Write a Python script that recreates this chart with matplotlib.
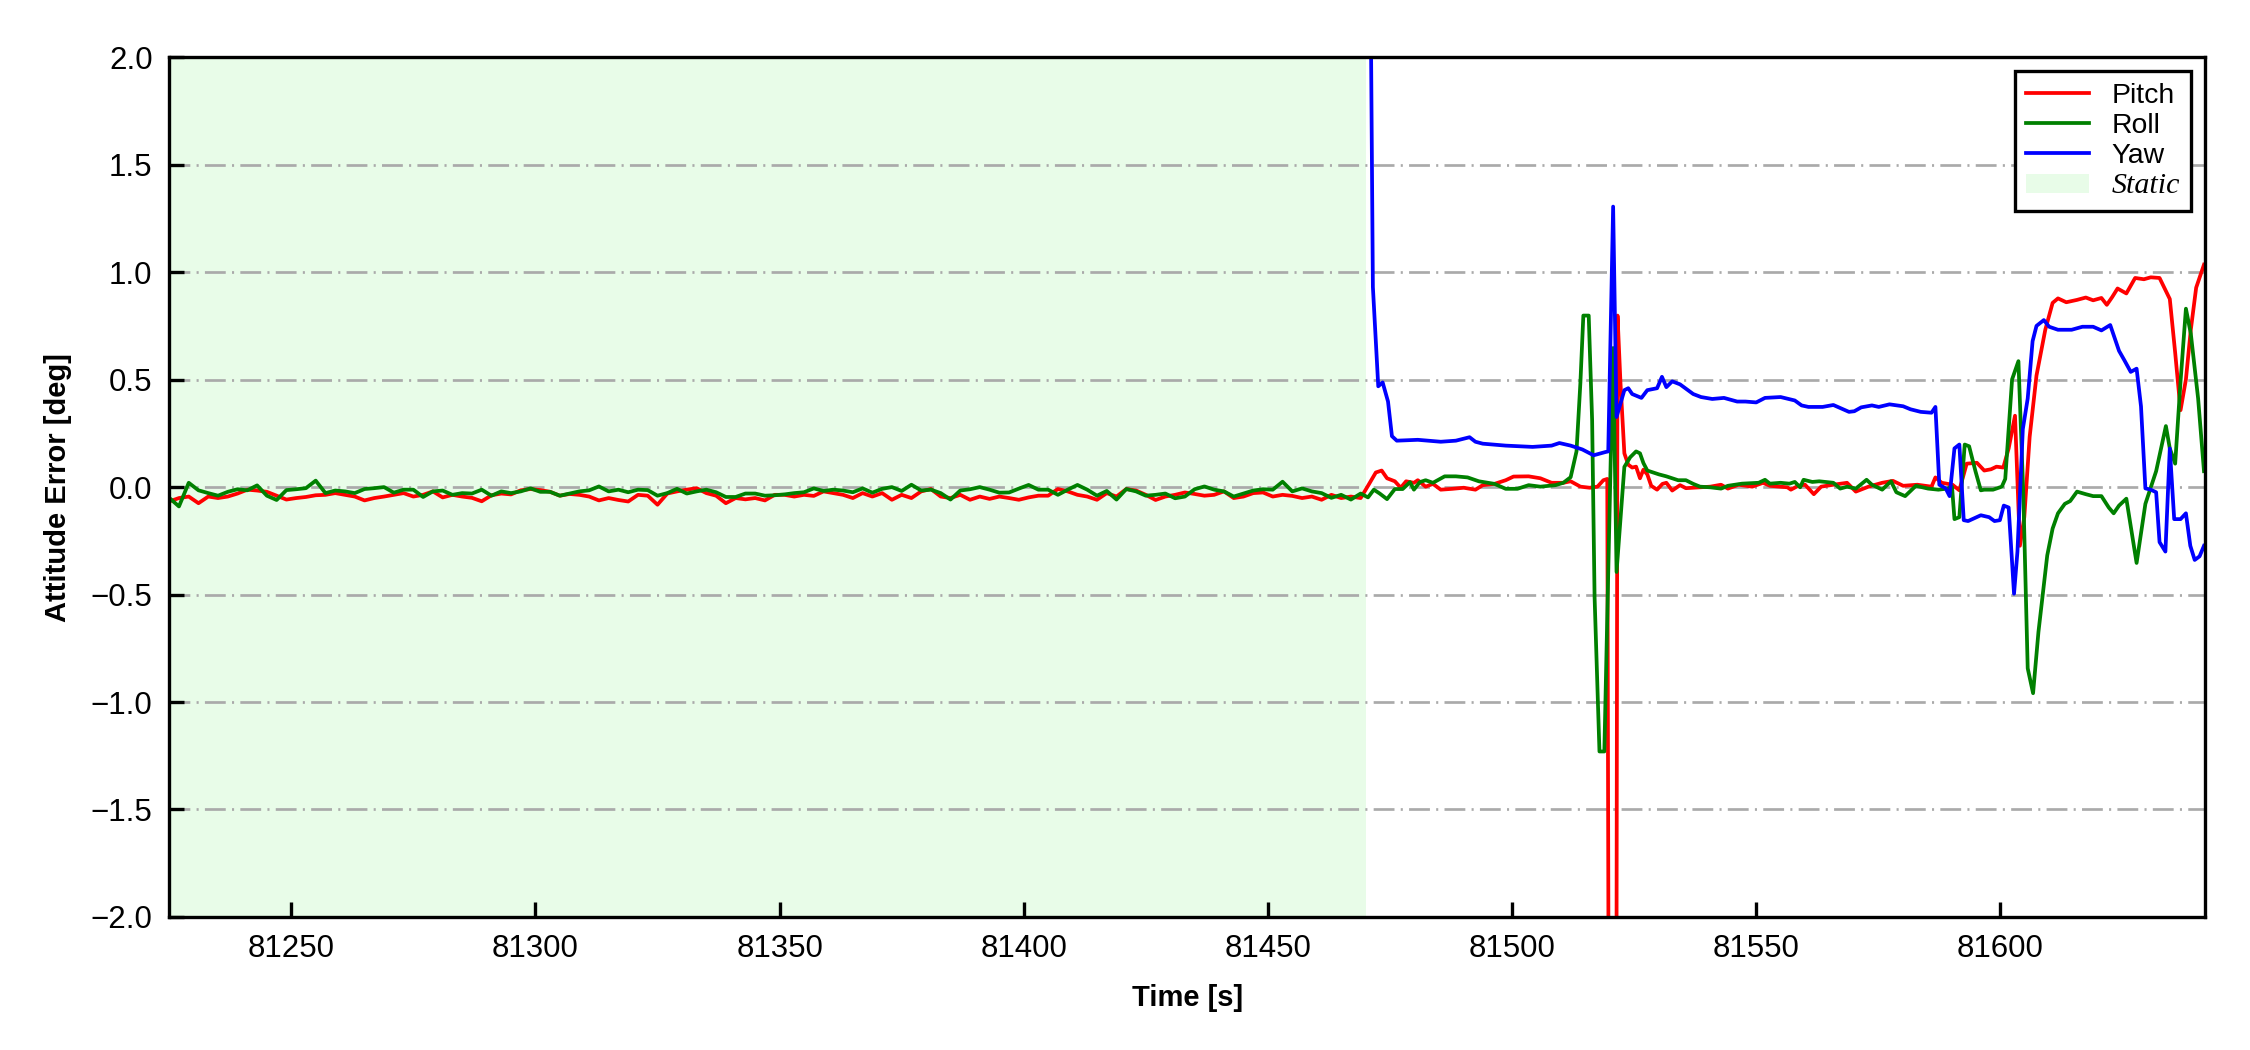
import numpy as np
import matplotlib
matplotlib.use("Agg")
import matplotlib.pyplot as plt
from matplotlib.patches import Patch
from matplotlib.lines import Line2D

plt.rcParams['font.family'] = ['Liberation Sans', 'DejaVu Sans']

# ---------------- data ----------------
static_start = 81225
static_end = 81470
static_time = np.arange(81225, 81470, 2)  # 2 s sampling grid in the static phase

pitch_static = [
    -0.067, -0.051, -0.044, -0.075, -0.044, -0.051, -0.044, -0.030, -0.012, -0.016,
    -0.022, -0.040, -0.058, -0.051, -0.046, -0.038, -0.036, -0.028, -0.036, -0.044,
    -0.062, -0.051, -0.044, -0.036, -0.028, -0.044, -0.036, -0.020, -0.048, -0.036,
    -0.044, -0.050, -0.066, -0.038, -0.030, -0.034, -0.015, -0.009, -0.014, -0.022,
    -0.040, -0.032,
    -0.036, -0.044, -0.062, -0.051, -0.060, -0.067, -0.036, -0.040, -0.082, -0.030,
    -0.020, -0.012, -0.005, -0.028, -0.040, -0.075, -0.051, -0.057, -0.051, -0.062,
    -0.036, -0.036, -0.044, -0.036, -0.041, -0.020, -0.028, -0.036, -0.051, -0.028,
    -0.044, -0.028, -0.059, -0.036, -0.051, -0.020, -0.009, -0.044, -0.051, -0.036,
    -0.059,
    -0.044, -0.055, -0.044, -0.051, -0.059, -0.048, -0.040, -0.040, -0.009, -0.020,
    -0.036, -0.044, -0.059, -0.028, -0.044, -0.009, -0.016, -0.036, -0.060, -0.044,
    -0.036, -0.025, -0.032, -0.040, -0.036, -0.020, -0.051, -0.044, -0.028, -0.025,
    -0.044, -0.036, -0.041, -0.051, -0.044, -0.059, -0.036, -0.051, -0.044, -0.051,
]

roll_static = [
    -0.050, -0.090, 0.020, -0.015, -0.028, -0.040, -0.022, -0.010, -0.015, 0.008,
    -0.040, -0.060, -0.014, -0.010, -0.005, 0.030, -0.028, -0.016, -0.020, -0.028,
    -0.009, -0.005, 0.000, -0.026, -0.012, -0.012, -0.046, -0.020, -0.016, -0.036,
    -0.028, -0.030, -0.012, -0.040, -0.020, -0.028, -0.020, -0.006, -0.022, -0.022,
    -0.040, -0.030,
    -0.020, -0.015, 0.003, -0.020, -0.012, -0.024, -0.012, -0.014, -0.040, -0.028,
    -0.008, -0.030, -0.020, -0.012, -0.024, -0.046, -0.046, -0.030, -0.030, -0.040,
    -0.038, -0.034, -0.028, -0.024, -0.006, -0.018, -0.012, -0.016, -0.024, -0.006,
    -0.026, -0.008, 0.000, -0.018, 0.011, -0.016, -0.012, -0.028, -0.058, -0.016,
    -0.010,
    0.000, -0.012, -0.026, -0.025, -0.007, 0.010, -0.012, -0.012, -0.036, -0.012,
    0.010, -0.012, -0.040, -0.018, -0.058, -0.009, -0.020, -0.040, -0.036, -0.030,
    -0.052, -0.044, -0.010, 0.003, -0.012, -0.020, -0.044, -0.030, -0.016, -0.010,
    -0.012, 0.025, -0.020, -0.006, -0.020, -0.028, -0.050, -0.036, -0.058, -0.030,
]

pitch_dyn_t = [
    81470.5, 81472.1, 81473.3, 81474.4, 81476.0, 81477.2, 81478.3, 81479.9, 81480.7, 81482.3,
    81483.8, 81485.4, 81487.8, 81490.1, 81492.5, 81494.0, 81496.4, 81498.7, 81500.3, 81503.4,
    81505.8, 81508.1, 81510.5, 81512.0, 81514.0, 81515.9, 81517.5, 81518.7, 81519.5, 81519.9,
    81521.3, 81521.6, 81522.2, 81523.0, 81523.8, 81524.6, 81525.4, 81526.2, 81526.9, 81527.7,
    81528.5, 81529.7, 81530.8, 81531.6, 81532.8, 81534.4, 81535.6, 81537.1, 81540.6, 81542.8,
    81544.2, 81546.4, 81549.2, 81551.4, 81552.8, 81556.4, 81557.1, 81558.6, 81560.0, 81561.8,
    81563.3, 81565.8, 81568.6, 81570.4, 81573.0, 81575.8, 81578.0, 81580.1, 81583.0, 81585.9,
    81586.7, 81588.0, 81590.2, 81591.6, 81593.1, 81595.2, 81596.7, 81598.1, 81599.2, 81600.6,
    81601.7, 81603.0, 81604.0, 81604.9, 81606.0, 81607.4, 81609.2, 81610.7, 81611.8, 81613.5,
    81615.7, 81617.5, 81619.0, 81620.7, 81621.8, 81622.9, 81624.0, 81625.8, 81627.6, 81629.4,
    81630.8, 81632.6, 81634.7, 81635.8, 81636.9, 81638.0, 81639.0, 81640.1, 81641.7,
]
pitch_dyn_v = [
    0.006, 0.068, 0.077, 0.041, 0.027, -0.003, 0.027, 0.020, 0.032, 0.002,
    0.015, -0.012, -0.008, -0.003, -0.012, 0.009, 0.015, 0.032, 0.049, 0.050,
    0.041, 0.020, 0.020, 0.027, 0.002, -0.003, 0.002, 0.032, 0.038, -3.5,
    -3.5, 0.798, 0.487, 0.157, 0.104, 0.091, 0.095, 0.041, 0.081, 0.059,
    0.006, -0.012, 0.015, 0.020, -0.016, 0.009, -0.005, -0.003, 0.002, 0.011,
    -0.007, 0.011, 0.002, 0.020, 0.006, -0.001, -0.012, 0.006, 0.011, -0.033,
    0.002, 0.011, 0.020, -0.021, 0.002, 0.020, 0.029, 0.006, 0.011, 0.002,
    0.045, 0.020, 0.011, -0.015, 0.109, 0.113, 0.077, 0.083, 0.095, 0.091,
    0.180, 0.332, -0.273, -0.140, 0.234, 0.519, 0.732, 0.857, 0.878, 0.860,
    0.871, 0.882, 0.869, 0.880, 0.848, 0.884, 0.924, 0.901, 0.973, 0.967,
    0.976, 0.973, 0.875, 0.625, 0.358, 0.501, 0.732, 0.928, 1.035,
]

roll_dyn_t = [
    81470.5, 81471.7, 81472.9, 81474.4, 81476.0, 81477.6, 81479.1, 81479.9, 81481.1, 81482.3,
    81483.8, 81486.2, 81488.5, 81490.9, 81493.2, 81496.4, 81498.7, 81501.1, 81503.4, 81505.8,
    81508.9, 81510.5, 81512.0, 81513.2, 81514.0, 81514.6, 81515.7, 81516.4, 81516.9, 81517.9,
    81518.9, 81519.8, 81520.7, 81521.4, 81523.0, 81524.2, 81525.4, 81526.2, 81526.9, 81527.7,
    81530.1, 81531.6, 81534.0, 81535.6, 81537.1, 81538.5, 81540.6, 81542.8, 81544.2, 81547.1,
    81550.5, 81551.8, 81552.8, 81555.0, 81556.8, 81557.9, 81559.0, 81559.7, 81561.5, 81562.9,
    81565.8, 81567.2, 81568.6, 81570.4, 81572.6, 81573.7, 81575.8, 81577.6, 81578.7, 81580.5,
    81582.7, 81585.2, 81587.3, 81589.1, 81590.1, 81590.6, 81591.6, 81592.7, 81593.6, 81594.9,
    81596.0, 81596.7, 81598.5, 81600.3, 81601.0, 81602.4, 81603.7, 81604.7, 81605.6, 81606.7,
    81607.8, 81609.6, 81610.7, 81611.8, 81613.2, 81614.3, 81615.7, 81617.5, 81619.0, 81620.7,
    81622.2, 81623.2, 81624.3, 81625.8, 81627.9, 81629.7, 81631.9, 81633.9, 81634.7, 81635.8,
    81636.9, 81638.0, 81639.0, 81640.5, 81641.7,
]
roll_dyn_v = [
    -0.048, -0.012, -0.030, -0.056, -0.009, -0.009, 0.023, -0.012, 0.023, 0.032,
    0.020, 0.050, 0.050, 0.045, 0.027, 0.015, -0.008, -0.008, 0.009, 0.002,
    0.009, 0.020, 0.046, 0.166, 0.487, 0.798, 0.798, 0.310, -0.510, -1.230,
    -1.230, -0.300, 0.647, -0.395, 0.094, 0.139, 0.166, 0.157, 0.112, 0.077,
    0.059, 0.050, 0.032, 0.032, 0.015, 0.002, -0.001, -0.007, 0.006, 0.016,
    0.020, 0.034, 0.016, 0.020, 0.016, 0.024, -0.001, 0.034, 0.024, 0.027,
    0.020, -0.007, 0.002, -0.007, 0.034, 0.011, -0.012, 0.027, -0.024, -0.042,
    0.006, -0.007, -0.012, -0.007, 0.002, -0.149, -0.140, 0.198, 0.190, 0.074,
    -0.015, -0.012, -0.012, 0.002, 0.038, 0.501, 0.586, -0.033, -0.843, -0.959,
    -0.674, -0.318, -0.193, -0.122, -0.078, -0.065, -0.021, -0.033, -0.042, -0.042,
    -0.095, -0.122, -0.086, -0.054, -0.353, -0.078, 0.074, 0.284, 0.180, 0.109,
    0.492, 0.830, 0.714, 0.412, 0.074,
]

yaw_t = [
    81470.8, 81471.5, 81472.6, 81473.5, 81474.6, 81475.4, 81476.4, 81480.7, 81485.4, 81488.5,
    81491.3, 81492.5, 81494.0, 81498.7, 81504.2, 81508.1, 81509.7, 81512.0, 81514.4, 81516.7,
    81519.1, 81519.7, 81520.7, 81521.4, 81523.0, 81523.8, 81524.6, 81526.5, 81527.7, 81529.7,
    81530.7, 81531.6, 81532.8, 81534.4, 81537.1, 81538.7, 81541.0, 81543.4, 81546.1, 81547.8,
    81550.0, 81551.8, 81555.0, 81557.9, 81559.3, 81560.7, 81563.6, 81565.8, 81569.0, 81570.1,
    81571.5, 81573.7, 81575.1, 81577.3, 81580.1, 81581.6, 81583.7, 81585.9, 81586.7, 81587.5,
    81588.8, 81589.6, 81590.6, 81591.6, 81592.5, 81593.4, 81596.0, 81597.7, 81598.8, 81599.9,
    81600.7, 81601.7, 81602.8, 81603.5, 81604.6, 81605.6, 81606.6, 81607.4, 81608.9, 81610.0,
    81611.8, 81614.6, 81616.8, 81619.0, 81620.7, 81622.5, 81624.3, 81625.4, 81626.7, 81627.9,
    81628.8, 81629.7, 81630.8, 81631.9, 81632.6, 81633.8, 81634.7, 81635.6, 81636.9, 81638.0,
    81638.9, 81639.8, 81640.8, 81641.7,
]
yaw_v = [
    3.000, 0.931, 0.469, 0.487, 0.398, 0.237, 0.216, 0.220, 0.211, 0.216,
    0.232, 0.211, 0.202, 0.193, 0.187, 0.193, 0.205, 0.193, 0.175, 0.148,
    0.163, 0.166, 1.305, 0.326, 0.451, 0.460, 0.433, 0.415, 0.451, 0.460,
    0.513, 0.465, 0.492, 0.478, 0.433, 0.419, 0.410, 0.415, 0.398, 0.398,
    0.394, 0.415, 0.419, 0.403, 0.380, 0.373, 0.373, 0.382, 0.350, 0.353,
    0.371, 0.380, 0.373, 0.385, 0.376, 0.362, 0.350, 0.346, 0.373, 0.011,
    -0.006, -0.042, 0.180, 0.198, -0.154, -0.158, -0.131, -0.140, -0.158, -0.154,
    -0.086, -0.095, -0.496, -0.300, 0.270, 0.412, 0.679, 0.750, 0.777, 0.746,
    0.732, 0.732, 0.746, 0.746, 0.729, 0.754, 0.634, 0.590, 0.536, 0.551,
    0.376, -0.006, -0.012, -0.024, -0.256, -0.300, 0.180, -0.149, -0.149, -0.122,
    -0.273, -0.339, -0.322, -0.273,
]

x_limits = (81225, 81642)
y_limits = (-2.0, 2.0)
x_ticks = [81250, 81300, 81350, 81400, 81450, 81500, 81550, 81600]
y_ticks = [-2.0, -1.5, -1.0, -0.5, 0.0, 0.5, 1.0, 1.5, 2.0]
series_labels = ["Pitch", "Roll", "Yaw"]
static_label = "Static"

# ---------------- plot ----------------
fig = plt.figure(figsize=(7.5, 3.5), dpi=300)
ax = fig.add_axes([0.0752, 0.1267, 0.9050, 0.8188])

span_color = (0.91, 0.99, 0.91)
ax.axvspan(static_start, static_end, color=span_color, lw=0, zorder=0)

pitch_t = np.concatenate([static_time, pitch_dyn_t])
pitch_v = np.concatenate([pitch_static, pitch_dyn_v])
roll_t = np.concatenate([static_time, roll_dyn_t])
roll_v = np.concatenate([roll_static, roll_dyn_v])

lw = 0.9
ax.plot(pitch_t, pitch_v, color='red', lw=lw, zorder=3)
ax.plot(roll_t, roll_v, color='green', lw=lw, zorder=3)
ax.plot(yaw_t, yaw_v, color='blue', lw=lw, zorder=3)

ax.set_xlim(*x_limits)
ax.set_ylim(*y_limits)
ax.set_xticks(x_ticks)
ax.set_yticks(y_ticks)
ax.ticklabel_format(axis='x', useOffset=False, style='plain')

glw = 0.65
ax.yaxis.grid(True, color='#aaaaaa', lw=glw,
              linestyle=(0, (5 / glw, 1.5 / glw, 0.5 / glw, 1.5 / glw)), zorder=1)
ax.set_axisbelow(False)
for gl in ax.get_ygridlines():
    gl.set_zorder(1)

ax.tick_params(axis='both', direction='in', length=3.5, width=0.8,
               labelsize=7.5, pad=4, top=False, right=False)
for sp in ax.spines.values():
    sp.set_linewidth(0.8)
    sp.set_zorder(5)

ax.set_xlabel("Time [s]", fontsize=7, fontweight='bold', labelpad=5)
ax.set_ylabel("Attitude Error [deg]", fontsize=7, fontweight='bold', labelpad=4.5)

handles = [
    Line2D([], [], color='red', lw=lw),
    Line2D([], [], color='green', lw=lw),
    Line2D([], [], color='blue', lw=lw),
    Patch(facecolor=span_color, edgecolor='none'),
]
leg = ax.legend(handles, series_labels + [static_label], loc='upper right',
                fontsize=6.8, frameon=True, fancybox=False, framealpha=1,
                edgecolor='black', labelspacing=0.15, handlelength=2.2,
                borderaxespad=0.5)
leg.get_frame().set_linewidth(0.8)
leg.set_zorder(6)
leg.get_texts()[3].set_fontfamily('Liberation Serif')
leg.get_texts()[3].set_fontstyle('italic')
leg.get_texts()[3].set_fontsize(7.2)

fig.savefig("out.png", dpi=300)
